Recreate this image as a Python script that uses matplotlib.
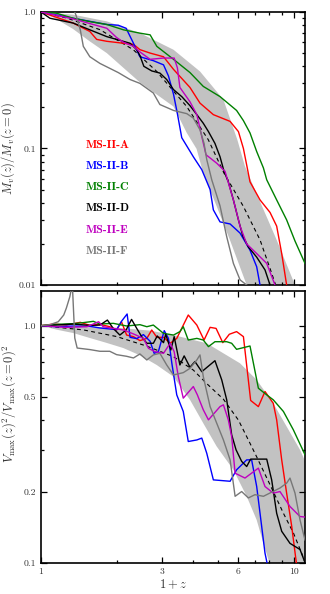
import matplotlib
matplotlib.use("Agg")
import matplotlib.pyplot as plt
from matplotlib.ticker import FixedLocator, FixedFormatter, NullFormatter

plt.rcParams['font.family'] = 'serif'
plt.rcParams['font.serif'] = ['cmr10']
plt.rcParams['mathtext.fontset'] = 'cm'
plt.rcParams['axes.unicode_minus'] = False

names = ['MS-II-A', 'MS-II-B', 'MS-II-C', 'MS-II-D', 'MS-II-E', 'MS-II-F']
colors = ['red', 'blue', 'green', 'black', 'm', '#777777']

# ---- top panel: mass history M_v(z)/M_v(z=0) vs 1+z ----
mass_a_x = [1.0, 1.34, 1.56, 1.66, 1.82, 2.12, 2.32, 2.46, 2.70, 3.05, 3.34, 3.88, 4.25, 4.80,
            5.59, 6.03, 6.31, 6.70, 7.34, 8.04, 8.54, 8.94, 9.35, 9.59]
mass_a_y = [1.0, 0.83, 0.72, 0.63, 0.61, 0.59, 0.58, 0.53, 0.50, 0.47, 0.38, 0.28, 0.215, 0.177,
            0.158, 0.133, 0.10, 0.057, 0.042, 0.034, 0.027, 0.017, 0.010, 0.0078]
mass_b_x = [1.0, 1.34, 1.82, 2.02, 2.17, 2.32, 2.46, 2.78, 3.05, 3.19, 3.34, 3.46, 3.60, 4.0,
            4.32, 4.66, 4.80, 5.10, 5.59, 6.12, 6.70, 7.12, 7.34, 7.45]
mass_b_y = [1.0, 0.90, 0.81, 0.80, 0.76, 0.59, 0.47, 0.44, 0.41, 0.34, 0.25, 0.18, 0.12, 0.087,
            0.070, 0.050, 0.0355, 0.029, 0.028, 0.024, 0.018, 0.0136, 0.010, 0.0078]
mass_c_x = [1.0, 1.15, 1.34, 1.56, 1.82, 2.12, 2.46, 2.70, 2.87, 3.34, 3.88, 4.38, 5.10, 5.93,
            6.31, 6.70, 7.12, 7.57, 7.80, 8.54, 9.35, 10.09, 11.05]
mass_c_y = [1.0, 0.98, 0.90, 0.85, 0.81, 0.74, 0.70, 0.68, 0.56, 0.45, 0.36, 0.285, 0.24, 0.19,
            0.16, 0.13, 0.095, 0.072, 0.059, 0.042, 0.030, 0.021, 0.0144]
mass_d_x = [1.0, 1.085, 1.34, 1.56, 1.82, 1.99, 2.25, 2.39, 2.46, 2.55, 2.74, 2.95, 3.14, 3.34,
            3.60, 3.88, 4.13, 4.38, 4.59, 4.87, 5.10, 5.29, 5.50, 5.76, 6.03, 6.27, 6.60, 7.12,
            7.68, 8.04, 8.16]
mass_d_y = [1.0, 0.90, 0.83, 0.74, 0.66, 0.63, 0.59, 0.53, 0.48, 0.40, 0.37, 0.357, 0.32, 0.27,
            0.24, 0.206, 0.177, 0.153, 0.133, 0.109, 0.087, 0.068, 0.057, 0.042, 0.030, 0.023,
            0.019, 0.016, 0.0129, 0.010, 0.0078]
mass_e_x = [1.0, 1.34, 1.82, 1.99, 2.12, 2.32, 2.46, 2.70, 3.05, 3.36, 3.46, 3.54, 3.88, 4.13,
            4.32, 4.49, 4.95, 5.34, 5.76, 6.12, 6.50, 7.12, 7.80, 8.41, 8.54]
mass_e_y = [1.0, 0.89, 0.76, 0.65, 0.60, 0.56, 0.51, 0.45, 0.46, 0.46, 0.39, 0.28, 0.22, 0.177,
            0.1225, 0.090, 0.078, 0.068, 0.042, 0.027, 0.020, 0.017, 0.0144, 0.010, 0.0078]
mass_f_x = [1.36, 1.38, 1.43, 1.47, 1.56, 1.71, 2.02, 2.25, 2.46, 2.78, 2.95, 3.34, 3.77, 4.0,
            4.25, 4.41, 4.52, 4.73, 5.10, 5.42, 5.76, 6.12, 6.50, 6.91]
mass_f_y = [1.0, 0.93, 0.74, 0.56, 0.47, 0.42, 0.36, 0.32, 0.30, 0.255, 0.21, 0.19, 0.18, 0.167,
            0.137, 0.109, 0.083, 0.059, 0.038, 0.0226, 0.0144, 0.0109, 0.010, 0.0092]

mass_med_x = [1.0, 1.263, 1.711, 2.317, 2.866, 3.766, 4.585, 5.29, 6.31, 7.34, 8.16, 8.49]
mass_med_y = [1.0, 0.904, 0.742, 0.529, 0.367, 0.203, 0.1158, 0.0659, 0.0376, 0.0214, 0.0122, 0.0098]
mass_hi_x = [1.0, 1.34, 1.82, 2.46, 3.34, 4.25, 5.26, 5.97, 6.40, 7.01, 8.54, 10.09, 10.6]
mass_hi_y = [1.0, 0.956, 0.854, 0.701, 0.529, 0.367, 0.228, 0.116, 0.074, 0.0497, 0.0214, 0.010, 0.0078]
mass_lo_x = [1.0, 1.15, 1.34, 1.56, 1.82, 2.46, 3.34, 3.77, 4.12, 4.38, 4.95, 5.58, 6.50, 6.70]
mass_lo_y = [1.0, 0.889, 0.750, 0.609, 0.500, 0.305, 0.203, 0.130, 0.0994, 0.0659, 0.0376, 0.0214,
             0.010, 0.0078]

# ---- bottom panel: Vmax(z)^2/Vmax(z=0)^2 vs 1+z ----
vmax_a_x = [1.0, 1.12, 1.26, 1.43, 1.56, 1.71, 1.87, 1.99, 2.08, 2.18, 2.32, 2.46, 2.62, 2.74,
            2.87, 3.05, 3.24, 3.44, 3.82, 4.13, 4.41, 4.66, 4.92, 5.23, 5.55, 5.93, 6.31, 6.74,
            7.23, 7.68, 8.28, 8.54, 8.94, 9.35, 9.79, 10.24, 10.40]
vmax_a_y = [1.0, 1.016, 1.006, 1.033, 1.003, 1.013, 0.99, 0.959, 1.039, 0.913, 0.899, 0.865,
            0.884, 0.959, 0.893, 0.893, 0.843, 0.884, 1.109, 1.006, 0.870, 0.984, 0.974, 0.848,
            0.920, 0.944, 0.899, 0.484, 0.456, 0.528, 0.471, 0.401, 0.272, 0.197, 0.143, 0.098,
            0.088]
vmax_b_x = [1.0, 1.15, 1.34, 1.56, 1.71, 1.99, 2.08, 2.19, 2.25, 2.39, 2.54, 2.70, 2.80, 2.91,
            3.07, 3.19, 3.29, 3.44, 3.65, 3.82, 4.13, 4.32, 4.52, 4.80, 5.59, 5.93, 6.50, 6.80,
            7.12, 7.34, 7.68, 7.92]
vmax_b_y = [1.0, 0.990, 0.997, 0.994, 0.978, 0.962, 1.043, 1.120, 0.893, 0.882, 0.917, 0.859,
            0.765, 0.777, 0.953, 0.884, 0.694, 0.511, 0.435, 0.325, 0.330, 0.336, 0.290, 0.224,
            0.221, 0.247, 0.272, 0.272, 0.210, 0.162, 0.110, 0.094]
vmax_c_x = [1.0, 1.15, 1.34, 1.47, 1.61, 1.71, 1.93, 2.18, 2.46, 2.62, 2.78, 3.05, 3.34, 3.54,
            3.65, 3.82, 4.13, 4.38, 4.59, 4.87, 5.42, 5.67, 5.93, 6.70, 7.23, 7.80, 8.28, 9.08,
            9.94, 11.05]
vmax_c_y = [1.0, 1.013, 1.020, 1.030, 1.043, 1.016, 1.023, 0.997, 1.010, 0.990, 1.006, 0.928,
            0.913, 0.944, 0.990, 0.870, 0.884, 0.870, 0.816, 0.856, 0.856, 0.843, 0.795, 0.821,
            0.545, 0.511, 0.487, 0.435, 0.364, 0.286]
vmax_d_x = [1.0, 1.15, 1.34, 1.56, 1.71, 1.83, 1.93, 2.05, 2.17, 2.28, 2.39, 2.50, 2.62, 2.78,
            2.88, 3.05, 3.11, 3.26, 3.36, 3.54, 3.68, 3.88, 4.06, 4.32, 4.87, 5.18, 5.42, 5.67,
            5.90, 6.21, 6.50, 6.74, 7.80, 8.16, 8.54, 8.94, 9.64, 10.56, 11.15]
vmax_d_y = [1.0, 1.006, 1.016, 1.003, 1.006, 1.056, 0.974, 0.913, 0.959, 1.063, 0.974, 0.899,
            0.843, 0.843, 0.905, 0.848, 0.920, 0.790, 0.899, 0.683, 0.746, 0.668, 0.706, 0.640,
            0.712, 0.591, 0.487, 0.347, 0.300, 0.268, 0.255, 0.274, 0.274, 0.224, 0.162, 0.136,
            0.121, 0.114, 0.098]
vmax_e_x = [1.0, 1.26, 1.52, 1.69, 1.76, 1.93, 2.12, 2.32, 2.54, 2.66, 2.82, 3.05, 3.24, 3.36,
            3.49, 3.65, 4.0, 4.15, 4.38, 4.59, 5.10, 5.26, 5.50, 5.67, 5.85, 6.40, 7.23, 7.68,
            8.28, 8.80, 9.64, 10.56, 11.15]
vmax_e_y = [1.0, 0.984, 0.990, 1.039, 0.990, 0.974, 0.959, 0.923, 0.884, 0.803, 0.777, 0.765,
            0.843, 0.777, 0.610, 0.495, 0.554, 0.511, 0.442, 0.401, 0.456, 0.464, 0.401, 0.341,
            0.239, 0.228, 0.251, 0.210, 0.197, 0.200, 0.173, 0.157, 0.156]
vmax_f_x = [1.0, 1.085, 1.17, 1.23, 1.26, 1.30, 1.33, 1.36, 1.39, 1.56, 1.71, 1.87, 1.99, 2.18,
            2.32, 2.46, 2.62, 2.78, 2.95, 3.14, 3.34, 3.65, 3.88, 4.13, 4.25, 4.38, 4.66, 4.95,
            5.26, 5.59, 5.85, 6.21, 6.60, 7.01, 7.57, 8.80, 9.35, 9.64, 10.09, 10.56, 11.05]
vmax_f_y = [1.0, 1.010, 1.039, 1.109, 1.187, 1.324, 1.5, 0.887, 0.805, 0.793, 0.780, 0.780,
            0.755, 0.743, 0.731, 0.760, 0.717, 0.753, 0.765, 0.683, 0.620, 0.634, 0.661, 0.717,
            0.753, 0.610, 0.456, 0.388, 0.330, 0.272, 0.191, 0.200, 0.188, 0.194, 0.191, 0.207,
            0.217, 0.228, 0.197, 0.152, 0.125]

vmax_med_x = [1.0, 1.47, 1.99, 2.62, 3.34, 4.0, 4.52, 5.26, 6.03, 6.60, 7.12, 8.28, 9.08, 9.94,
              10.72, 11.15]
vmax_med_y = [1.0, 0.96, 0.90, 0.82, 0.74, 0.65, 0.57, 0.49, 0.40, 0.33, 0.28, 0.20, 0.162, 0.134,
              0.110, 0.098]
vmax_hi_x = [1.0, 1.47, 1.99, 2.70, 3.34, 4.52, 6.12, 7.12, 8.28, 9.35, 10.56, 11.15, 12.0]
vmax_hi_y = [1.0, 0.994, 0.981, 0.953, 0.913, 0.843, 0.694, 0.591, 0.471, 0.376, 0.300, 0.2635, 0.23]
vmax_lo_x = [1.0, 1.153, 1.342, 1.562, 1.818, 2.115, 2.462, 2.866, 3.336, 3.881, 4.38, 4.946,
             5.758, 6.50, 7.117, 7.565, 8.037, 8.28, 12.0]
vmax_lo_y = [1.0, 0.962, 0.931, 0.887, 0.846, 0.805, 0.750, 0.683, 0.610, 0.487, 0.388, 0.310,
             0.247, 0.191, 0.152, 0.1214, 0.0984, 0.088, 0.03]

mass_x = [mass_a_x, mass_b_x, mass_c_x, mass_d_x, mass_e_x, mass_f_x]
mass_y = [mass_a_y, mass_b_y, mass_c_y, mass_d_y, mass_e_y, mass_f_y]
vmax_x = [vmax_a_x, vmax_b_x, vmax_c_x, vmax_d_x, vmax_e_x, vmax_f_x]
vmax_y = [vmax_a_y, vmax_b_y, vmax_c_y, vmax_d_y, vmax_e_y, vmax_f_y]


def style_axis(ax, yticks, ylabels, ylim):
    ax.set_xscale('log')
    ax.set_yscale('log')
    ax.set_xlim(1, 11.05)
    ax.set_ylim(*ylim)
    ax.xaxis.set_major_locator(FixedLocator([1, 3, 6, 10]))
    ax.xaxis.set_minor_locator(FixedLocator([2, 4, 5, 7, 8, 9]))
    ax.xaxis.set_major_formatter(FixedFormatter(['1', '3', '6', '10']))
    ax.xaxis.set_minor_formatter(NullFormatter())
    ax.yaxis.set_major_locator(FixedLocator(yticks))
    ax.yaxis.set_major_formatter(FixedFormatter(ylabels))
    ax.yaxis.set_minor_formatter(NullFormatter())
    ax.tick_params(which='both', direction='in', top=True, right=True,
                   labelsize=7, labelcolor='#333333', width=0.9)
    ax.tick_params(which='major', length=4)
    ax.tick_params(which='minor', length=2.2)
    for sp in ax.spines.values():
        sp.set_linewidth(1.2)


def draw_panel(ax, xs, ys, med_x, med_y, hi_x, hi_y, lo_x, lo_y):
    ax.fill(hi_x + lo_x[::-1], hi_y + lo_y[::-1], color='0.76', lw=0, zorder=1)
    ax.plot(med_x, med_y, color='black', lw=0.8, ls=(0, (3.5, 3)), zorder=2)
    for x, y, c in zip(xs, ys, colors):
        ax.plot(x, y, color=c, lw=1.0, zorder=3)


fig = plt.figure(figsize=(3.3, 5.94), dpi=100)
ax1 = fig.add_axes([0.1242, 0.5202, 0.8, 0.4596])
ax2 = fig.add_axes([0.1242, 0.0522, 0.8, 0.4579])

draw_panel(ax1, mass_x, mass_y, mass_med_x, mass_med_y,
           mass_hi_x, mass_hi_y, mass_lo_x, mass_lo_y)
draw_panel(ax2, vmax_x, vmax_y, vmax_med_x, vmax_med_y,
           vmax_hi_x, vmax_hi_y, vmax_lo_x, vmax_lo_y)

style_axis(ax1, [0.01, 0.1, 1.0], ['0.01', '0.1', '1.0'], (0.01, 1.0))
style_axis(ax2, [0.1, 0.2, 0.5, 1.0], ['0.1', '0.2', '0.5', '1.0'], (0.1, 1.4))
ax1.tick_params(labelbottom=False)

ax1.set_ylabel(r'$M_v(z)/M_v(z=0)$', fontsize=9, color='#333333')
ax1.yaxis.set_label_coords(-0.09, 0.5)
ax2.set_ylabel(r'$V_{\rm max}(z)^2/V_{\rm max}(z=0)^2$', fontsize=9, color='#333333')
ax2.yaxis.set_label_coords(-0.087, 0.585)
ax2.set_xlabel(r'$1+z$', fontsize=9, color='#333333', labelpad=1)

for i, (name, c) in enumerate(zip(names, colors)):
    ax1.text(0.17, 0.513 - i * 0.0775, name, color=c, fontsize=8.5, family='cmb10',
             transform=ax1.transAxes, va='center', ha='left')

fig.savefig('out.png', dpi=100)
